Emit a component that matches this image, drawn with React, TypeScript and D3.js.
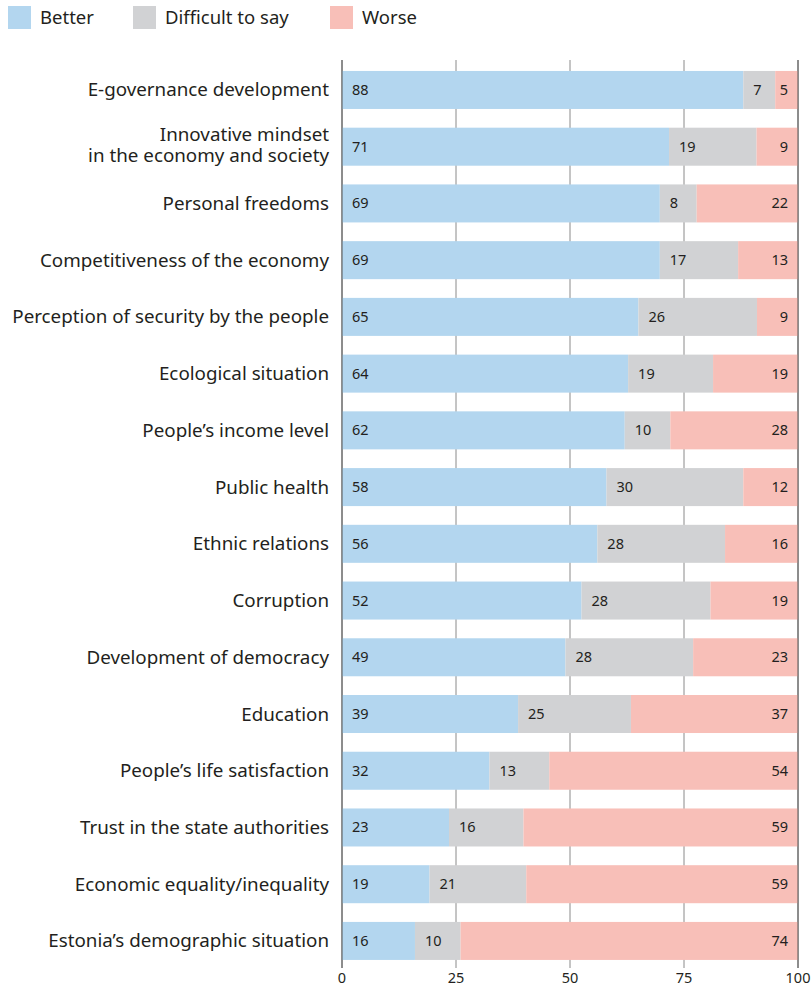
import React from "react";
import * as d3 from "d3";

const categories = [
  "E-governance development",
  "Innovative mindset\nin the economy and society",
  "Personal freedoms",
  "Competitiveness of the economy",
  "Perception of security by the people",
  "Ecological situation",
  "People’s income level",
  "Public health",
  "Ethnic relations",
  "Corruption",
  "Development of democracy",
  "Education",
  "People’s life satisfaction",
  "Trust in the state authorities",
  "Economic equality/inequality",
  "Estonia’s demographic situation",
];
const better = [88, 71, 69, 69, 65, 64, 62, 58, 56, 52, 49, 39, 32, 23, 19, 16];
const difficult = [7, 19, 8, 17, 26, 19, 10, 30, 28, 28, 28, 25, 13, 16, 21, 10];
const worse = [5, 9, 22, 13, 9, 19, 28, 12, 16, 19, 23, 37, 54, 59, 59, 74];
const seriesKeys = ["better", "difficult", "worse"];
const seriesNames = ["Better", "Difficult to say", "Worse"];
const seriesColors = ["#b3d6ef", "#d1d2d4", "#f8bfb8"];
const xTicks = [0, 25, 50, 75, 100];

const W = 812;
const H = 986;
const FONT = "'Noto Sans', 'Open Sans', sans-serif";
const TEXT = "#231f20";

export default function App() {
  const rows = categories.map((c, i) => ({
    category: c,
    better: better[i],
    difficult: difficult[i],
    worse: worse[i],
  }));
  const stacked = d3
    .stack<any>()
    .keys(seriesKeys)
    .offset(d3.stackOffsetExpand)(rows);

  const x = d3.scaleLinear().domain([0, 1]).range([342, 798]);
  const xAxis = d3.scaleLinear().domain([0, 100]).range([342, 798]);
  const y = d3
    .scaleBand()
    .domain(categories)
    .range([61.6, 969.3])
    .paddingInner(0.33)
    .paddingOuter(0.165);
  const bh = y.bandwidth();

  return (
    <svg width={W} height={H} style={{ position: "absolute", left: 0, top: 0 }} fontFamily={FONT}>
      {/* legend */}
      {seriesNames.map((n, i) => {
        const lx = [8, 133, 330][i];
        return (
          <g key={n}>
            <rect x={lx} y={6} width={23} height={23} fill={seriesColors[i]} />
            <text x={lx + 32} y={24} fontSize={18.5} fill={TEXT}>
              {n}
            </text>
          </g>
        );
      })}
      {/* gridlines */}
      {xTicks.map((t) => (
        <line
          key={t}
          x1={xAxis(t)}
          x2={xAxis(t)}
          y1={60}
          y2={968}
          stroke="#8a8a8a"
          strokeWidth={1}
        />
      ))}
      {/* bars */}
      {stacked.map((s, si) => (
        <g key={s.key} fill={seriesColors[si]}>
          {s.map((d, i) => (
            <rect
              key={i}
              x={x(d[0])}
              width={x(d[1]) - x(d[0])}
              y={y(categories[i])}
              height={bh}
            />
          ))}
        </g>
      ))}
      {/* edge lines on top */}
      {[0, 100].map((t) => (
        <line
          key={"e" + t}
          x1={xAxis(t)}
          x2={xAxis(t)}
          y1={60}
          y2={968}
          stroke="#555"
          strokeWidth={1}
        />
      ))}
      {/* value labels */}
      {stacked.map((s, si) =>
        s.map((d, i) => {
          const v = [better, difficult, worse][si][i];
          const cy = (y(categories[i]) as number) + bh / 2 + 5;
          const tx = si === 2 ? x(d[1]) - 10 : x(d[0]) + 10;
          return (
            <text
              key={s.key + i}
              x={tx}
              y={cy}
              fontSize={14.5}
              fill={TEXT}
              textAnchor={si === 2 ? "end" : "start"}
            >
              {v}
            </text>
          );
        })
      )}
      {/* category labels */}
      {categories.map((c) => {
        const lines = c.split("\n");
        const cy = (y(c) as number) + bh / 2;
        const off = lines.length > 1 ? 5 : 6.5;
        return (
          <text key={c} x={329} fontSize={18.8} fill={TEXT} textAnchor="end">
            {lines.map((l, k) => (
              <tspan key={k} x={329} y={cy + off + (k - (lines.length - 1) / 2) * 21}>
                {l}
              </tspan>
            ))}
          </text>
        );
      })}
      {/* x tick labels */}
      {xTicks.map((t) => (
        <text
          key={"t" + t}
          x={xAxis(t)}
          y={983}
          fontSize={14.5}
          fill={TEXT}
          textAnchor="middle"
        >
          {t}
        </text>
      ))}
    </svg>
  );
}
